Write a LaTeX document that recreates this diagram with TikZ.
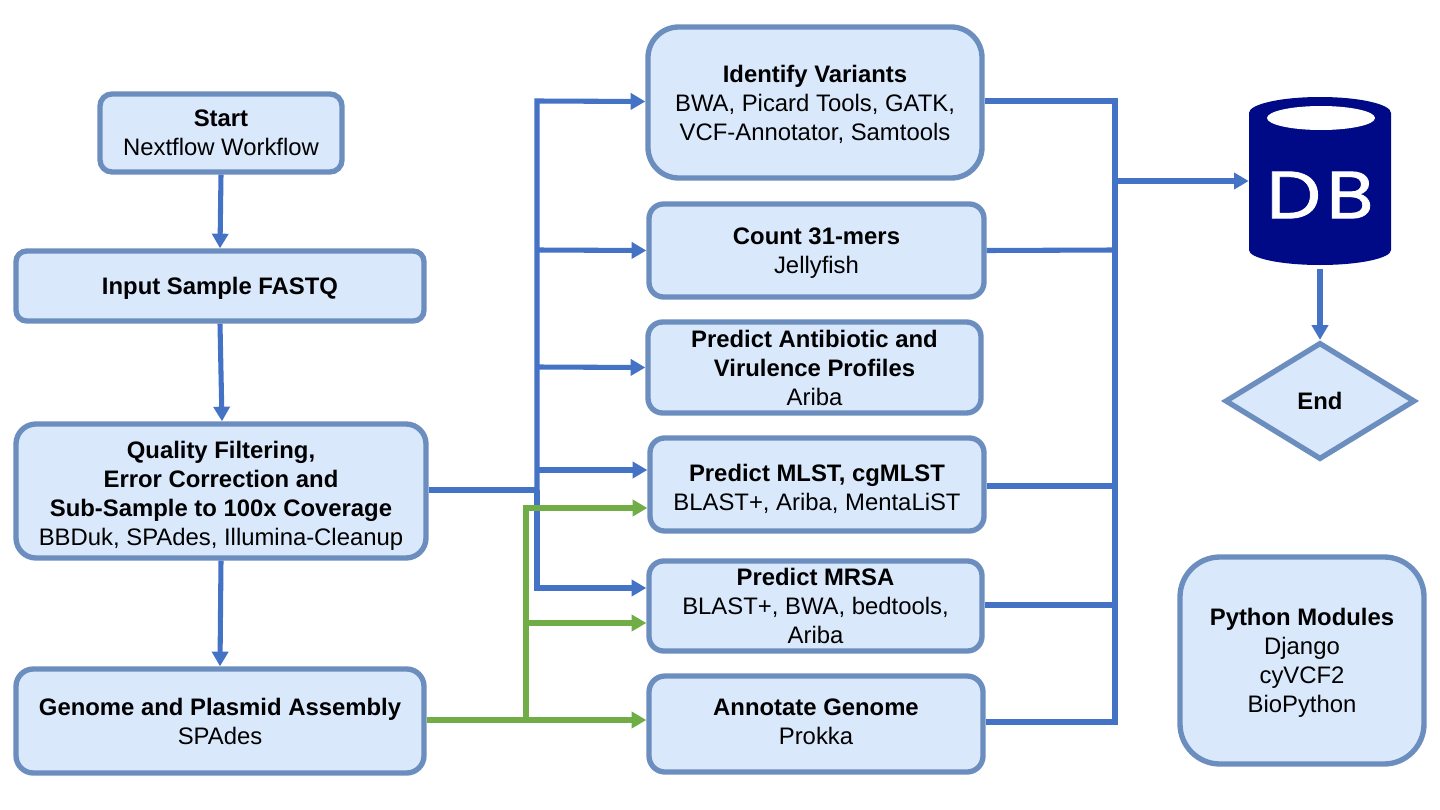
\documentclass[tikz,border=0pt]{standalone}
\usepackage{fontspec}
\setmainfont{Liberation Sans}
\newfontfamily\dbfont[FakeStretch=1.16,FakeBold=1.2]{Poppins}
\usetikzlibrary{%
	arrows.meta,%
	calc,%
	shapes.geometric
}
\definecolor{boxfill}{HTML}{DAE8FC}
\definecolor{boxline}{HTML}{6C8EBF}
\definecolor{flowblue}{HTML}{4472C4}
\definecolor{flowgreen}{HTML}{70AD47}
\definecolor{dbnavy}{HTML}{000A87}
% Pushes the lines of a box down or up a little
\newcommand{\lowertext}[1]{\rule{0pt}{#1pt}}
\newcommand{\raisetext}[1]{\rule[-#1pt]{0pt}{#1pt}}
\tikzset{
	stage/.style 2 args={draw=boxline,fill=boxfill,line width=4pt,align=center,inner sep=0pt,
		font=\fontsize{17.9}{21.7}\selectfont,minimum width=#1*0.75pt,minimum height=#2*0.75pt},
	bluearrow/.style={flowblue,line width=3.8pt,-{Triangle[length=11pt,width=12pt]}},
	blueline/.style={flowblue,line width=3.8pt},
	greenarrow/.style={flowgreen,line width=3.8pt,-{Triangle[length=11pt,width=12pt]}},
	greenline/.style={flowgreen,line width=3.8pt}
}
\begin{document}
\begin{tikzpicture}[x=0.75pt,y=-0.75pt]
	\useasboundingbox (0,0) rectangle (1440,810);

	% Left column
	\node[stage={242}{78},rounded corners=9pt] (start) at (221,133) {\textbf{Start}\\Nextflow Workflow};
	\node[stage={408}{70},rounded corners=8pt] (input) at (220,286) {\lowertext{16}\textbf{Input Sample FASTQ}};
	\node[stage={410}{134},rounded corners=15pt] (quality) at (221,491) {\lowertext{20}\textbf{Quality Filtering,}\\\textbf{Error Correction and}\\\textbf{Sub-Sample to 100x Coverage}\\BBDuk, SPAdes, Illumina-Cleanup};
	\node[stage={408}{104},rounded corners=13pt] (genome) at (220,721) {\lowertext{13.5}\textbf{Genome and Plasmid Assembly}\\SPAdes};

	% Middle column
	\node[stage={334}{151},rounded corners=23pt] (variants) at (815,102.5) {\lowertext{16}\textbf{Identify Variants}\\BWA, Picard Tools, GATK,\\VCF-Annotator, Samtools};
	\node[stage={335}{93},rounded corners=11pt] (kmers) at (816.5,250.5) {\lowertext{17}\textbf{Count 31-mers}\\Jellyfish};
	\node[stage={333}{91},rounded corners=11pt] (profiles) at (814.5,367.5) {\lowertext{13.5}\textbf{Predict Antibiotic and}\\\textbf{Virulence Profiles}\\Ariba};
	\node[stage={334}{93},rounded corners=11pt] (mlst) at (817,484.5) {\lowertext{19}\textbf{Predict MLST, cgMLST}\\BLAST+, Ariba, MentaLiST};
	\node[stage={333}{90},rounded corners=11pt] (mrsa) at (815.5,606) {\textbf{Predict MRSA}\\BLAST+, BWA, bedtools,\\Ariba};
	\node[stage={334}{96},rounded corners=12pt] (annotate) at (816,724) {\textbf{Annotate Genome}\\Prokka\raisetext{4}};

	% Right column
	\node[stage={244}{207},rounded corners=30pt] (python) at (1302,660.5) {\lowertext{16}\textbf{Python Modules}\\Django\\cyVCF2\\BioPython};
	\fill[dbnavy] (1249,113) arc[start angle=180,end angle=360,x radius=71,y radius=16]
		-- (1391,250) arc[start angle=0,end angle=180,x radius=71,y radius=15] -- cycle;
	\fill[white] (1321,118) ellipse[x radius=54,y radius=12];
	\node[text=white,inner sep=0pt,minimum width=142*0.75pt,minimum height=140*0.75pt,
		font=\dbfont\fontsize{50}{50}\selectfont] (db) at (1320,195) {D\kern4pt B};
	\node[stage={190}{117},shape=diamond] (end) at (1320,401) {\textbf{End}};

	% Named points of the two trunks and the collecting bus
	\coordinate (qtrunk) at (537,490);
	\coordinate (gtrunk) at (526,720);
	\coordinate (bus) at (1115,181);

	% Top to bottom
	\draw[bluearrow] (start.south) -- (input.north);
	\draw[bluearrow] (input.south) -- ($(quality.north)+(1,0)$);
	\draw[bluearrow] (quality.south) -- (genome.north);
	\draw[bluearrow] ($(db.south)+(0,4)$) -- (end.north);

	% Blue arrows
	\draw[blueline] (quality.east |- qtrunk) -- (qtrunk);
	\draw[bluearrow] (qtrunk) -- (537,101) -- ($(variants.west)+(0,-1)$);
	\draw[bluearrow] (537,250) -- (kmers.west);
	\draw[bluearrow] (537,367) -- (profiles.west);
	\draw[bluearrow] (537,470) -- (mlst.west |- 0,470);
	\draw[bluearrow] (qtrunk) -- (537,588) -- (mrsa.west |- 0,588);

	% Green arrows
	\draw[greenline] (genome.east |- gtrunk) -- (gtrunk);
	\draw[greenarrow] (gtrunk) -- (526,508) -- (mlst.west |- 0,508);
	\draw[greenarrow] (526,623) -- (mrsa.west |- 0,623);
	\draw[greenarrow] (gtrunk) -- (annotate.west |- gtrunk);

	% Collecting bus
	\draw[blueline] (variants.east |- 0,101) -- (1115,101) -- (1115,722) -- (annotate.east |- 0,722);
	\draw[blueline] (kmers.east) -- (1115,250);
	\draw[blueline] (mlst.east |- 0,486) -- (1115,486);
	\draw[blueline] (mrsa.east |- 0,605) -- (1115,605);
	\draw[bluearrow] (bus) -- (db.west |- bus);
\end{tikzpicture}
\end{document}
